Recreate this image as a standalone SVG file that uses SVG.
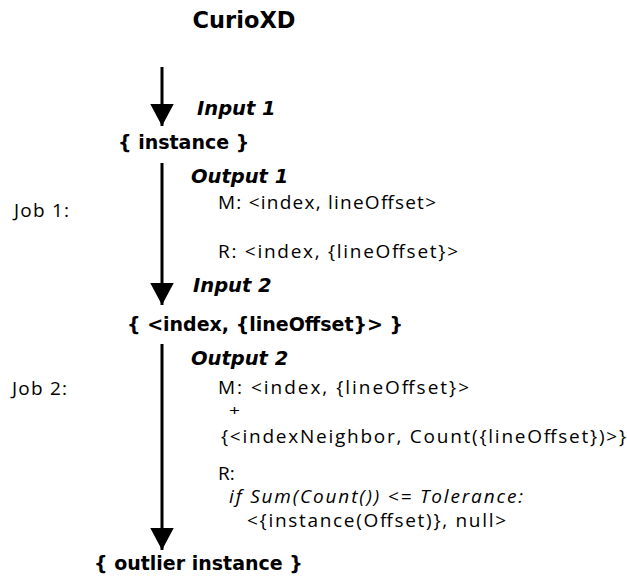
<svg xmlns="http://www.w3.org/2000/svg" width="627" height="577" viewBox="0 0 627 577">
<style>
.b{font-family:"DejaVu Sans",sans-serif;font-weight:bold;font-size:19px;fill:#000}
.t{font-family:"DejaVu Sans",sans-serif;font-weight:bold;font-size:22.5px;fill:#000}
.bi{font-family:"DejaVu Sans",sans-serif;font-weight:bold;font-style:italic;font-size:19.5px;fill:#000}
.r{font-family:"Open Sans","Noto Sans",sans-serif;font-size:19px;fill:#000}
.p{font-family:"Open Sans","Noto Sans",sans-serif;font-size:15px;fill:#000}
.i{font-family:"Open Sans","Noto Sans",sans-serif;font-style:italic;font-size:19px;fill:#000}
.ln{stroke:#000;stroke-width:3;fill:none}
</style>
<defs>
<marker id="ah" markerWidth="8" markerHeight="8" refX="7.5" refY="4" orient="auto" markerUnits="strokeWidth">
<path d="M0,0 L7.5,4 L0,8 Z" fill="#000"/>
</marker>
</defs>
<rect width="627" height="577" fill="#fff"/>
<g id="title"><text class="t" x="244" y="28" text-anchor="middle">CurioXD</text></g>
<g id="connectors">
<line class="ln" x1="162" y1="67" x2="162" y2="126" marker-end="url(#ah)"/>
<line class="ln" x1="162" y1="163" x2="162" y2="305" marker-end="url(#ah)"/>
<line class="ln" x1="162" y1="344" x2="162" y2="550" marker-end="url(#ah)"/>
</g>
<g id="input1"><text class="bi" x="197" y="115">Input 1</text></g>
<g id="instance"><text class="b" x="118" y="149">{ instance }</text></g>
<g id="output1">
<text class="bi" x="191" y="183">Output 1</text>
<text class="r" x="218" y="209" textLength="218" lengthAdjust="spacing">M: &lt;index, lineOffset&gt;</text>
<text class="r" x="218" y="258" textLength="240" lengthAdjust="spacing">R: &lt;index, {lineOffset}&gt;</text>
</g>
<g id="job1"><text class="r" x="14" y="217" textLength="55" lengthAdjust="spacing">Job 1:</text></g>
<g id="input2"><text class="bi" x="193" y="292">Input 2</text></g>
<g id="index-node"><text class="b" x="127" y="331">{ &lt;index, {lineOffset}&gt; }</text></g>
<g id="output2">
<text class="bi" x="191" y="365">Output 2</text>
<text class="r" x="218" y="394" textLength="251" lengthAdjust="spacing">M: &lt;index, {lineOffset}&gt;</text>
<text class="p" x="229" y="416" textLength="11" lengthAdjust="spacingAndGlyphs">+</text>
<text class="r" x="221" y="443" textLength="405" lengthAdjust="spacing">{&lt;indexNeighbor, Count({lineOffset})&gt;}</text>
<text class="r" x="218" y="480">R:</text>
<text class="i" x="229" y="503" textLength="294" lengthAdjust="spacing">if Sum(Count()) &lt;= Tolerance:</text>
<text class="r" x="247" y="527" textLength="259" lengthAdjust="spacing">&lt;{instance(Offset)}, null&gt;</text>
</g>
<g id="job2"><text class="r" x="12" y="395" textLength="55" lengthAdjust="spacing">Job 2:</text></g>
<g id="outlier"><text class="b" x="94" y="570">{ outlier instance }</text></g>
</svg>
